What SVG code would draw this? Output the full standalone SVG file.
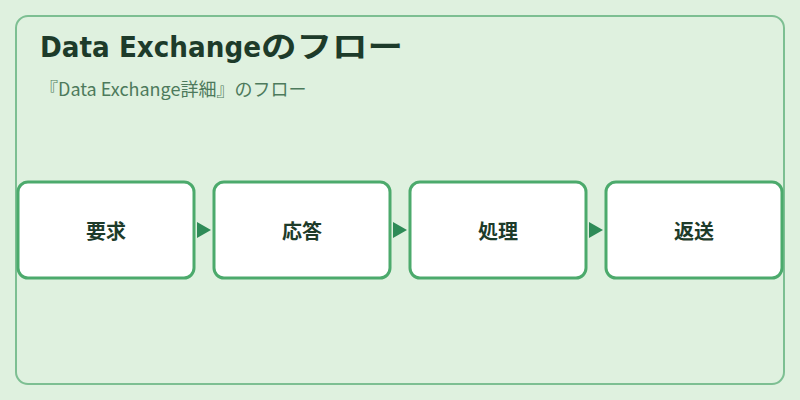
<svg xmlns="http://www.w3.org/2000/svg" width="800" height="400" viewBox="0 0 800 400">
<defs>
<style>
.frame{fill:#dff1df;stroke:#7dbf92;stroke-width:2}
.node{fill:#ffffff;stroke:#4caa6c;stroke-width:3}
.lbl{font-family:"Noto Sans CJK JP","Noto Sans",sans-serif;font-size:20px;font-weight:bold;fill:#1d3b2a;text-anchor:middle}
.title{font-weight:bold;fill:#1d3b2a}
.tl{font-family:"DejaVu Sans","Noto Sans CJK JP",sans-serif;font-size:28px}
.tj{font-family:"Noto Sans CJK JP",sans-serif;font-size:30px}
.sub{font-family:"Noto Sans CJK JP","Noto Sans",sans-serif;font-size:18px;fill:#4d7a5c}
.conn{stroke:none;fill:none}
</style>
<marker id="arr" markerUnits="userSpaceOnUse" markerWidth="14" markerHeight="16" refX="14" refY="8" orient="auto" viewBox="0 0 14 16">
<path d="M0,0 L14,8 L0,16 Z" fill="#2e8b57"/>
</marker>
</defs>
<rect width="800" height="400" fill="#dff1df"/>
<rect class="frame" x="16" y="16" width="768" height="368" rx="12"/>
<text class="title" x="40" y="57"><tspan class="tl" textLength="221" lengthAdjust="spacingAndGlyphs">Data Exchange</tspan><tspan class="tj" textLength="142" lengthAdjust="spacingAndGlyphs">のフロー</tspan></text>
<text class="sub" x="40" y="96">『Data Exchange詳細』のフロー</text>
<g id="connectors">
<path class="conn" d="M196,230 L211,230" marker-end="url(#arr)"/>
<path class="conn" d="M392,230 L407,230" marker-end="url(#arr)"/>
<path class="conn" d="M588,230 L603,230" marker-end="url(#arr)"/>
</g>
<g id="node1"><rect class="node" x="18" y="182" width="176" height="96" rx="10"/><text class="lbl" x="106" y="239">要求</text></g>
<g id="node2"><rect class="node" x="214" y="182" width="176" height="96" rx="10"/><text class="lbl" x="302" y="239">応答</text></g>
<g id="node3"><rect class="node" x="410" y="182" width="176" height="96" rx="10"/><text class="lbl" x="498" y="239">処理</text></g>
<g id="node4"><rect class="node" x="606" y="182" width="176" height="96" rx="10"/><text class="lbl" x="694" y="239">返送</text></g>
</svg>
